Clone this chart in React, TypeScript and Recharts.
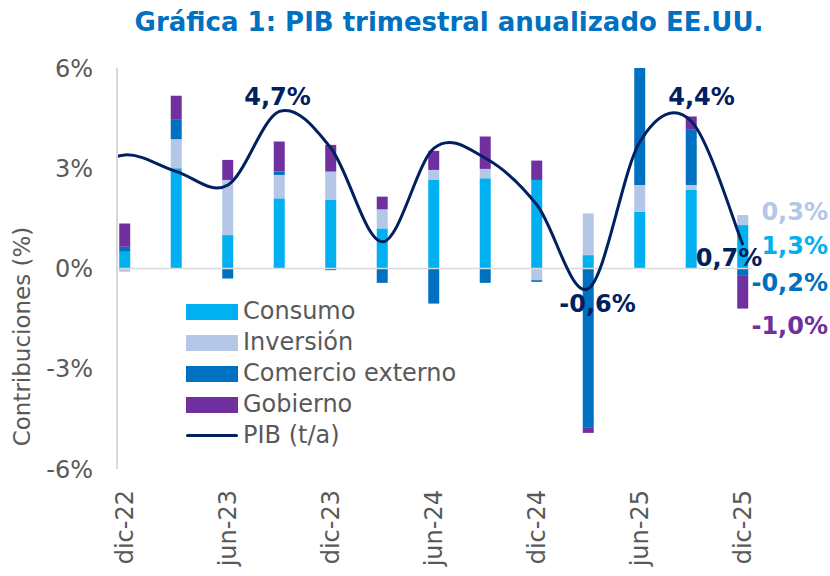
import React from 'react';
import {
  ComposedChart,
  Bar,
  Line,
  XAxis,
  YAxis,
  ReferenceLine,
  ReferenceDot,
  Legend,
  LabelList,
} from 'recharts';

// quarters shown on the chart
const quarters = ['dic-22', 'mar-23', 'jun-23', 'sep-23', 'dic-23', 'mar-24', 'jun-24', 'sep-24', 'dic-24', 'mar-25', 'jun-25', 'sep-25', 'dic-25'];
const xTickQuarters = ['dic-22', 'jun-23', 'dic-23', 'jun-24', 'dic-24', 'jun-25', 'dic-25'];
const yTicks = [-6, -3, 0, 3, 6];

// contributions (pp)
const consumo = [0.5, 3.0, 1.0, 2.1, 2.05, 1.2, 2.65, 2.7, 2.65, 0.4, 1.7, 2.35, 1.3];
const inversion = [-0.1, 0.87, 1.65, 0.7, 0.85, 0.57, 0.3, 0.28, -0.35, 1.25, 0.8, 0.15, 0.3];
const comercio = [0.15, 0.6, -0.3, 0.1, -0.05, -0.43, -1.05, -0.43, -0.05, -4.75, 4.9, 1.65, -0.2];
const gobierno = [0.7, 0.7, 0.6, 0.9, 0.8, 0.38, 0.57, 0.97, 0.58, -0.17, 0, 0.4, -1.0];

// PIB t/a, plus the quarter before the first one (the line comes in from the left edge)
const pib = [3.4, 2.9, 2.5, 4.7, 3.6, 0.8, 3.6, 3.3, 1.9, -0.6, 3.8, 4.4, 0.7];
const pibPrevQuarter = 'sep-22';
const pibPrev = 2.7;

const C_CONSUMO = '#00B0F0';
const C_INVERSION = '#B4C7E7';
const C_COMERCIO = '#0070C0';
const C_GOBIERNO = '#7030A0';
const C_PIB = '#002060';
const GREY = '#595959';
const FONT = '"DejaVu Sans", sans-serif';

// stack order; endDy = nudge of the value label next to the last bar
const series = [
  { key: 'consumo', name: 'Consumo', values: consumo, color: C_CONSUMO, endDy: -1 },
  { key: 'inversion', name: 'Inversión', values: inversion, color: C_INVERSION, endDy: -8 },
  { key: 'comercio', name: 'Comercio externo', values: comercio, color: C_COMERCIO, endDy: 11 },
  { key: 'gobierno', name: 'Gobierno', values: gobierno, color: C_GOBIERNO, endDy: 34 },
];
const legendOrder = [...series.map((s) => s.name), 'PIB (t/a)'];

const rows = [
  { i: -1, q: pibPrevQuarter, pib: pibPrev },
  ...quarters.map((q, i) => {
    const r: any = { i, q, pib: pib[i] };
    series.forEach((s) => (r[s.key] = s.values[i]));
    return r;
  }),
];

const fmt = (v: number) => `${v.toFixed(1).replace('.', ',')}%`;

// middle of each segment of the last bar (sign-stacked, same order as the bars)
const lastIdx = quarters.length - 1;
const lastMids = (() => {
  let pos = 0;
  let neg = 0;
  return series.map((s) => {
    const v = s.values[lastIdx];
    const start = v >= 0 ? pos : neg;
    if (v >= 0) pos += v;
    else neg += v;
    return start + v / 2;
  });
})();

// Excel-like smoothed line (bezier through the points)
const excelSmooth: any = (context: any) => {
  let pts: number[][] = [];
  return {
    areaStart() {},
    areaEnd() {},
    lineStart() {
      pts = [];
    },
    point(x: number, y: number) {
      pts.push([+x, +y]);
    },
    lineEnd() {
      if (!pts.length) return;
      context.moveTo(pts[0][0], pts[0][1]);
      for (let k = 0; k < pts.length - 1; k++) {
        const p0 = pts[k - 1] || pts[k];
        const p1 = pts[k];
        const p2 = pts[k + 1];
        const p3 = pts[k + 2] || p2;
        context.bezierCurveTo(
          p1[0] + (p2[0] - p0[0]) / 6,
          p1[1] + (p2[1] - p0[1]) / 6,
          p2[0] - (p3[0] - p1[0]) / 6,
          p2[1] - (p3[1] - p1[1]) / 6,
          p2[0],
          p2[1]
        );
      }
    },
  };
};

// where the PIB labels sit relative to their point
const pibLabelOffset: Record<string, [number, number]> = {
  'sep-23': [-2, -14],
  'mar-25': [9, 15],
  'sep-25': [10, -24],
  'dic-25': [-14, 13],
};

function PibLabel(props: any) {
  const { index, value } = props;
  const row = rows[index];
  if (!row) return null;
  const off = pibLabelOffset[row.q];
  if (!off) return null;
  const x = props.x ?? props.viewBox?.x;
  const y = props.y ?? props.viewBox?.y;
  return (
    <text x={x + off[0]} y={y + off[1]} textAnchor="middle" dominantBaseline="central"
      fontFamily={FONT} fontWeight="bold" fontSize={24} fill={C_PIB}>
      {fmt(value)}
    </text>
  );
}

function endLabel(text: string, color: string, dy: number) {
  return (props: any) => {
    const vb = props.viewBox || {};
    return (
      <text x={vb.x + 85} y={vb.y + dy} textAnchor="end" dominantBaseline="central"
        fontFamily={FONT} fontWeight="bold" fontSize={24} fill={color}>
        {text}
      </text>
    );
  };
}

function XTick({ x, y, payload }: any) {
  return (
    <g transform={`translate(${x},${y})`}>
      <text transform="rotate(-90)" textAnchor="end" dy="0.35em" fontFamily={FONT} fontSize={24} fill={GREY}>
        {quarters[payload.value]}
      </text>
    </g>
  );
}

function YAxisTitle({ viewBox }: any) {
  const cx = viewBox.x + 22;
  const cy = viewBox.y + viewBox.height / 2 + 68;
  return (
    <text x={cx} y={cy} transform={`rotate(-90, ${cx}, ${cy})`} textAnchor="middle" dominantBaseline="central"
      fontFamily={FONT} fontSize={23} fill={GREY}>
      Contribuciones (%)
    </text>
  );
}

function LegendContent({ payload }: any) {
  const items = [...(payload || [])].sort(
    (a: any, b: any) => legendOrder.indexOf(a.value) - legendOrder.indexOf(b.value)
  );
  return (
    <div style={{ fontFamily: FONT, fontSize: 24, color: GREY }}>
      {items.map((p: any) => (
        <div key={p.value} style={{ display: 'flex', alignItems: 'center', height: 31 }}>
          <span
            style={{
              display: 'inline-block',
              width: 52,
              height: p.type === 'line' ? 3 : 16,
              background: p.color,
              marginRight: 5,
              borderRadius: p.type === 'line' ? 2 : 0,
            }}
          />
          <span style={{ lineHeight: '31px', whiteSpace: 'nowrap' }}>{p.value}</span>
        </div>
      ))}
    </div>
  );
}

export default function App() {
  return (
    <div style={{ position: 'absolute', left: 0, top: 0, width: 830, height: 576, background: '#fff' }}>
      <div
        style={{
          position: 'absolute',
          left: 68,
          top: 4,
          width: 762,
          textAlign: 'center',
          fontFamily: FONT,
          fontWeight: 'bold',
          fontSize: 26,
          lineHeight: '36px',
          color: C_COMERCIO,
        }}
      >
        Gráfica 1: PIB trimestral anualizado EE.UU.
      </div>
      <ComposedChart
        width={830}
        height={576}
        data={rows}
        stackOffset="sign"
        margin={{ top: 68, right: 78, bottom: 7, left: 0 }}
      >
        <XAxis
          dataKey="i"
          type="number"
          domain={[-0.155, 12.175]}
          allowDataOverflow
          ticks={xTickQuarters.map((q) => quarters.indexOf(q))}
          tick={<XTick />}
          tickLine={false}
          axisLine={false}
          tickSize={0}
          tickMargin={21}
          height={100}
          interval={0}
        />
        <YAxis
          domain={[-6, 6]}
          ticks={yTicks}
          allowDataOverflow
          tickFormatter={(v: number) => `${v}%`}
          tick={{ fontFamily: FONT, fontSize: 24, fill: GREY }}
          tickLine={false}
          tickSize={6}
          tickMargin={18}
          axisLine={{ stroke: '#D9D9D9', strokeWidth: 2 }}
          width={117}
          label={<YAxisTitle />}
        />
        <Legend
          layout="vertical"
          align="center"
          verticalAlign="middle"
          content={<LegendContent />}
          wrapperStyle={{ left: 186, top: 296, width: 'auto', height: 'auto' }}
        />
        {series.map((s) => (
          <Bar
            key={s.key}
            dataKey={s.key}
            name={s.name}
            stackId="a"
            fill={s.color}
            barSize={11}
            isAnimationActive={false}
          />
        ))}
        <ReferenceLine y={0} stroke="#D9D9D9" strokeWidth={1.5} />
        <Line
          dataKey="pib"
          name="PIB (t/a)"
          type={excelSmooth}
          stroke={C_PIB}
          strokeWidth={3}
          dot={false}
          activeDot={false}
          legendType="line"
          isAnimationActive={false}
        >
          <LabelList dataKey="pib" content={<PibLabel />} />
        </Line>
        {series.map((s, k) => (
          <ReferenceDot
            key={`end-${s.key}`}
            x={lastIdx}
            y={lastMids[k]}
            r={0}
            fill="none"
            stroke="none"
            ifOverflow="visible"
            label={endLabel(fmt(s.values[lastIdx]), s.color, s.endDy)}
          />
        ))}
      </ComposedChart>
    </div>
  );
}
